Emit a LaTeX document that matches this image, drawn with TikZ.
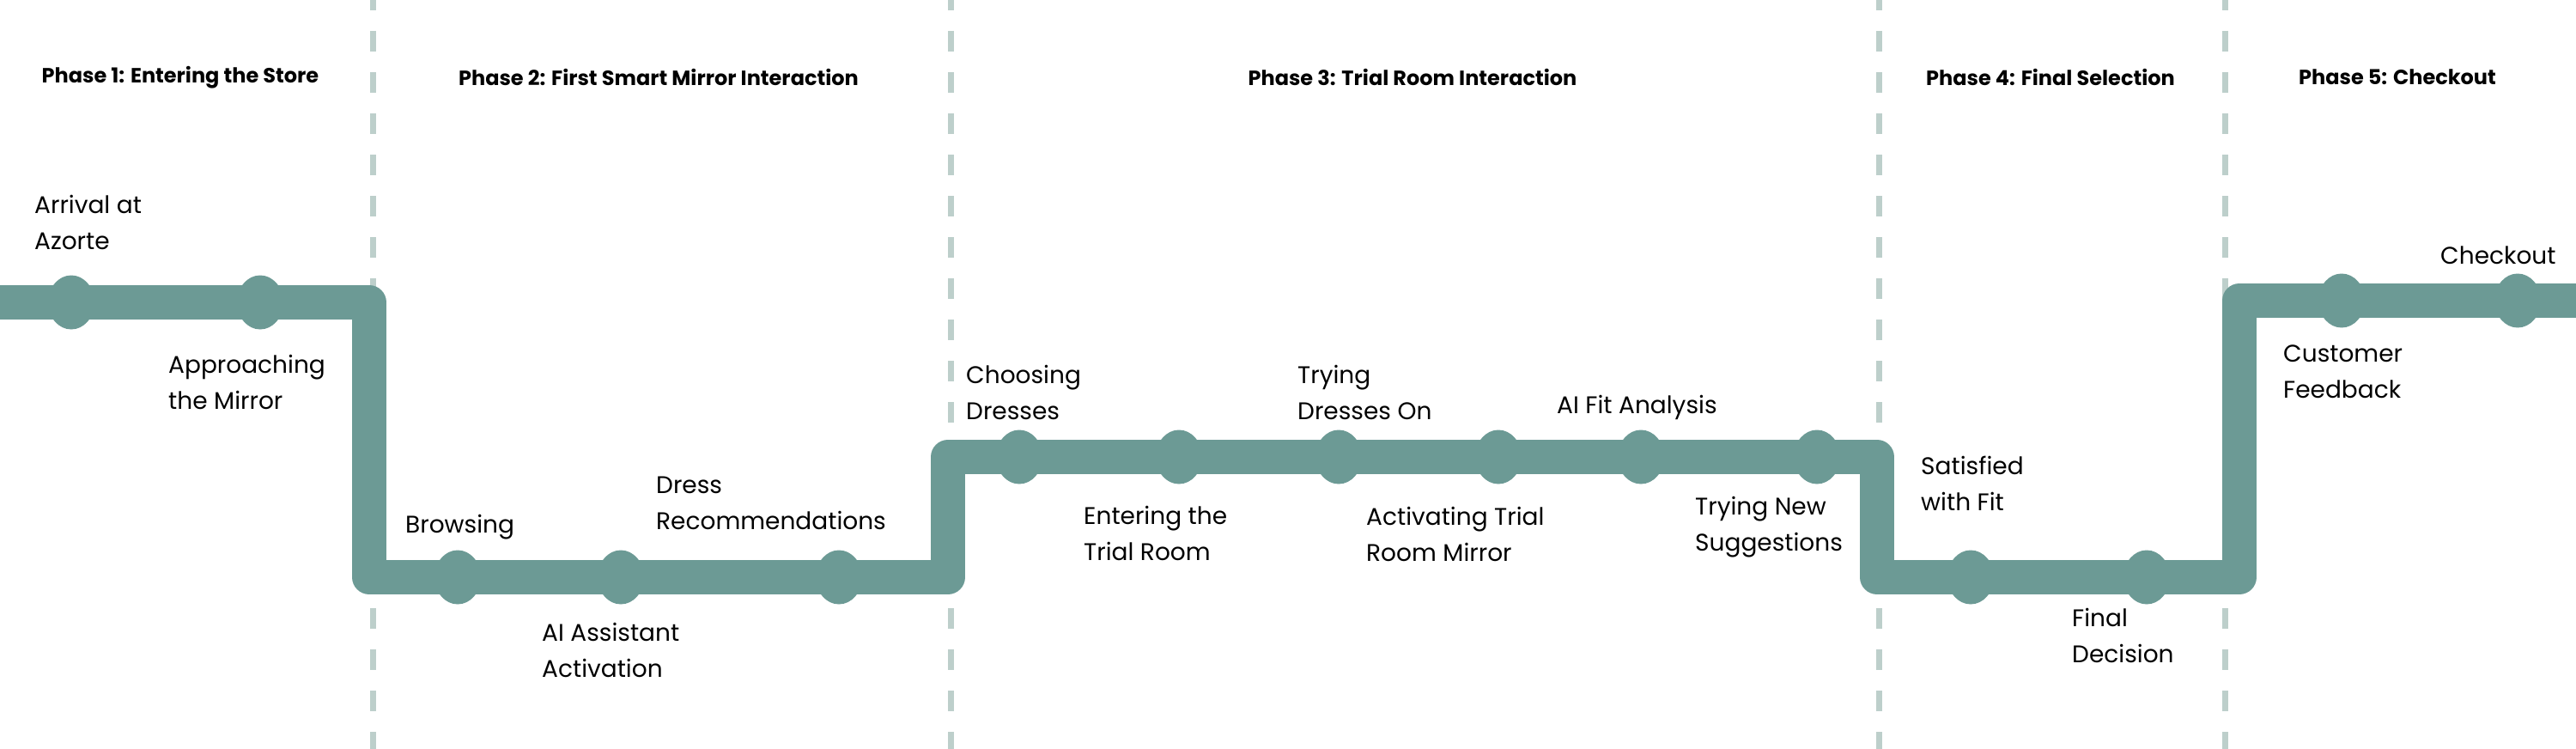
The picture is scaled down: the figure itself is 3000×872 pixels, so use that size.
\documentclass[tikz,border=0pt]{standalone}
\usepackage{fontspec}
\setmainfont{Poppins}
\usetikzlibrary{shapes.geometric, positioning}
\definecolor{cteal}{HTML}{6C9A95}
\definecolor{cdash}{HTML}{BDCFCB}
\tikzset{
  every picture/.style={x=1pt, y=-1pt},
  route/.style={draw=cteal, line width=40pt, line join=round},
  stop/.style={ellipse, fill=cteal, minimum width=54pt, minimum height=63pt, inner sep=0pt},
  sep/.style={draw=cdash, line width=7pt, dash pattern=on 24pt off 24pt, dash phase=12pt},
  phase/.style={font=\fontsize{24}{28}\selectfont\bfseries},
  lbl/.style={font=\fontsize{28}{42}\selectfont, align=left, anchor=west, inner sep=0pt},
}

\begin{document}
\begin{tikzpicture}
  \useasboundingbox (0,0) rectangle (3000,872);
  % phase separators
  \foreach \x in {434,1107,2188,2591}
    \draw[sep] (\x,0) -- (\x,872);
  % phase titles
  \foreach \x/\t [count=\i] in {210/Phase 1: Entering the Store, 767/Phase 2: First Smart Mirror Interaction,
      1645/Phase 3: Trial Room Interaction, 2388/Phase 4: Final Selection, 2792/Phase 5: Checkout}
    \node[phase] (ph\i) at (\x,90) {\t};
  % journey line
  \coordinate (r0) at (0,352);
  \coordinate (r1) at (430,352);
  \coordinate (r2) at (430,672);
  \coordinate (r3) at (1104,672);
  \coordinate (r4) at (1104,532);
  \coordinate (r5) at (2186,532);
  \coordinate (r6) at (2186,672);
  \coordinate (r7) at (2608,672);
  \coordinate (r8) at (2608,350);
  \coordinate (r9) at (3000,350);
  \draw[route] (r0) -- (r1) -- (r2) -- (r3) -- (r4) -- (r5) -- (r6) -- (r7) -- (r8) -- (r9);
  % stops
  \foreach \x/\y [count=\i] in {83/352, 303/352, 533/672, 723/672, 977/672,
      1187/532, 1373/532, 1559/532, 1745/532, 1911/532, 2116/532,
      2295/672, 2500/672, 2727/350, 2932/350}
    \node[stop] (s\i) at (\x,\y) {};
  % labels
  \node[lbl] (arrival) at (40,259) {Arrival at\\Azorte};
  \node[lbl] (approach) at (196,445) {Approaching\\the Mirror};
  \node[lbl] (browse) at (472,614) {Browsing};
  \node[lbl] (assist) at (631,757) {AI Assistant\\Activation};
  \node[lbl] (recs) at (764,586) {Dress\\Recommendations};
  \node[lbl] (choose) at (1125,457) {Choosing\\Dresses};
  \node[lbl] (enter) at (1262,621) {Entering the\\Trial Room};
  \node[lbl] (tryon) at (1511,457) {Trying\\Dresses On};
  \node[lbl] (activate) at (1591,622) {Activating Trial\\Room Mirror};
  \node[lbl] (fit) at (1813,474) {AI Fit Analysis};
  \node[lbl] (trynew) at (1974,614) {Trying New\\Suggestions};
  \node[lbl] (satisfied) at (2237,563) {Satisfied\\with Fit};
  \node[lbl] (decide) at (2413,740) {Final\\Decision};
  \node[lbl] (feedback) at (2659,433) {Customer\\Feedback};
  \node[lbl] (checkout) at (2842,297) {Checkout};
\end{tikzpicture}
\end{document}
